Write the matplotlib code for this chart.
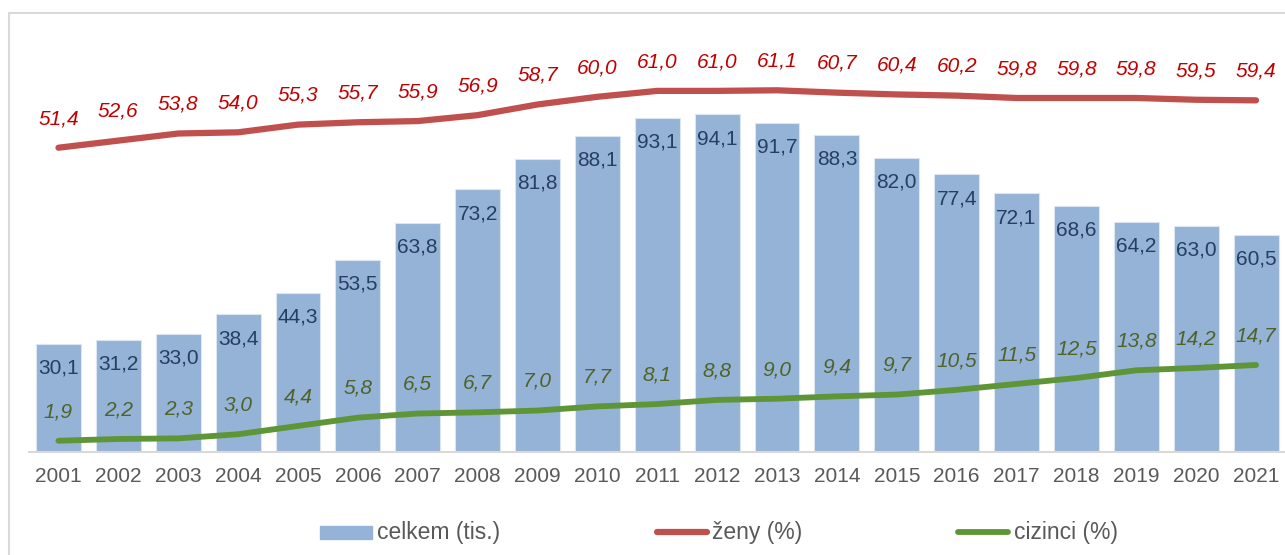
import matplotlib
matplotlib.use('Agg')
import matplotlib.pyplot as plt
from matplotlib.patches import Rectangle
from matplotlib.lines import Line2D

years = [str(y) for y in range(2001, 2022)]
celkem = [30.1, 31.2, 33.0, 38.4, 44.3, 53.5, 63.8, 73.2, 81.8, 88.1, 93.1,
          94.1, 91.7, 88.3, 82.0, 77.4, 72.1, 68.6, 64.2, 63.0, 60.5]
zeny = [51.4, 52.6, 53.8, 54.0, 55.3, 55.7, 55.9, 56.9, 58.7, 60.0, 61.0,
        61.0, 61.1, 60.7, 60.4, 60.2, 59.8, 59.8, 59.8, 59.5, 59.4]
cizinci = [1.9, 2.2, 2.3, 3.0, 4.4, 5.8, 6.5, 6.7, 7.0, 7.7, 8.1,
           8.8, 9.0, 9.4, 9.7, 10.5, 11.5, 12.5, 13.8, 14.2, 14.7]
legend_labels = ['celkem (tis.)', 'ženy (%)', 'cizinci (%)']

plt.rcParams['font.family'] = ['Liberation Sans', 'DejaVu Sans']

W, H = 1285, 555
BAR_C = '#95B3D7'
RED_C = '#C0504D'
GRN_C = '#5E9537'
FS = 15

def fmt(v):
    return f'{v:.1f}'.replace('.', ',')

fig = plt.figure(figsize=(W / 100, H / 100), dpi=100)
fig.patches.append(Rectangle((9 / W, -0.1), 2, (H - 13) / H + 0.1, transform=fig.transFigure,
                             fill=False, edgecolor='#D9D9D9', lw=1.5, zorder=0))

ax = fig.add_axes([28.5 / W, (H - 452) / H, (1286 - 28.5) / W, (452 - 20) / H])
x = list(range(len(years)))
ax.bar(x, celkem, width=0.75, color=BAR_C, edgecolor='#DCE6F2', linewidth=0.8, zorder=2)
ax.set_xlim(-0.5, len(years) - 0.5)
ax.set_ylim(0, 432 / 3.588)
for i, v in enumerate(celkem):
    ax.annotate(fmt(v), (i, v), xytext=(0, -17.5), textcoords='offset points',
                ha='center', va='center', fontsize=FS, color='#243F60', zorder=5)

ax2 = ax.twinx()
ax2.set_ylim(0, 432 / 5.92)
ax2.plot(x, zeny, color=RED_C, lw=4.5, solid_capstyle='round', solid_joinstyle='round', zorder=3)
ax2.plot(x, cizinci, color=GRN_C, lw=4.2, solid_capstyle='round', solid_joinstyle='round', zorder=3)
for i in x:
    ax2.annotate(fmt(zeny[i]), (i, zeny[i]), xytext=(0, 21), textcoords='offset points',
                 ha='center', va='center', fontsize=FS, style='italic', color='#C00000')
    ax2.annotate(fmt(cizinci[i]), (i, cizinci[i]), xytext=(0, 21), textcoords='offset points',
                 ha='center', va='center', fontsize=FS, style='italic', color='#4F6228')

for a in (ax, ax2):
    for s in ('top', 'left', 'right'):
        a.spines[s].set_visible(False)
    a.set_yticks([])
ax2.spines['bottom'].set_visible(False)
ax.spines['bottom'].set_color('#D9D9D9')
ax.spines['bottom'].set_linewidth(1.5)
ax.set_xticks(x)
ax.set_xticklabels(years, fontsize=FS, color='#595959')
ax.tick_params(axis='x', length=0, pad=11)

# legend drawn by hand to match the spacing
ly = (H - 532) / H
fig.patches.append(Rectangle((320 / W, (H - 538.5) / H), 52 / W, 13 / H,
                             transform=fig.transFigure, color=BAR_C))
fig.lines.append(Line2D([657 / W, 707 / W], [ly, ly], transform=fig.transFigure,
                        color=RED_C, lw=4.5, solid_capstyle='round'))
fig.lines.append(Line2D([958 / W, 1008 / W], [ly, ly], transform=fig.transFigure,
                        color=GRN_C, lw=4.2, solid_capstyle='round'))
for lx, t in zip([377, 712, 1014], legend_labels):
    fig.text(lx / W, ly, t, fontsize=16.5, color='#595959', va='center', ha='left')

fig.savefig('out.png', dpi=100)
